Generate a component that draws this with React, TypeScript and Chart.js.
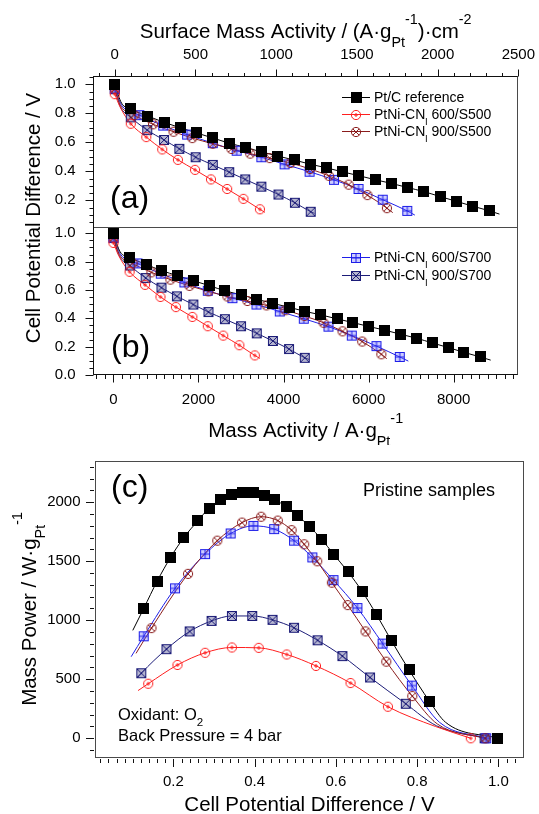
import React, { useEffect, useRef } from "react";
import { Chart, registerables } from "chart.js";
Chart.register(...registerables);

const FONT = "'Liberation Sans', Arimo, Arial, sans-serif";

// ================= DATA =================
// Pt/C reference
const ptcV = [0.998, 0.830, 0.780, 0.737, 0.700, 0.665, 0.630, 0.594, 0.565, 0.534, 0.505, 0.478, 0.449, 0.424, 0.396, 0.370, 0.342, 0.317, 0.288, 0.260, 0.226, 0.193, 0.160, 0.127];
const ptcMass = [0, 379, 766, 1129, 1508, 1879, 2258, 2621, 3008, 3371, 3750, 4129, 4500, 4879, 5258, 5629, 6008, 6371, 6750, 7121, 7500, 7879, 8242, 8629];
const ptcSurf = [0, 99, 205, 307, 406, 505, 607, 709, 808, 908, 1010, 1111, 1211, 1310, 1412, 1511, 1613, 1712, 1814, 1915, 2015, 2116, 2216, 2322];
const ptcPower = [0, 315, 579, 824, 1047, 1242, 1409, 1560, 1685, 1797, 1889, 1964, 2019, 2058, 2081, 2084, 2061, 2019, 1950, 1841, 1702, 1532, 1331, 1100];
const ptcFitV = [0.870, 0.105];
const ptcFitMass = [155, 8871];
const ptcFitSurf = [42, 2383];
const ptcFitPV = [0.100, 0.870];
const ptcFitP = [914, 135];

// PtNi-CNl 600/S500
const redV = [0.932, 0.728, 0.636, 0.551, 0.479, 0.410, 0.344, 0.278, 0.210, 0.138];
const redMass = [0, 379, 742, 1105, 1468, 1855, 2218, 2581, 2960, 3323];
const redSurf = [0, 99, 195, 294, 391, 497, 596, 696, 797, 899];
const redPower = [0, 267, 468, 613, 710, 766, 769, 724, 621, 462];
const redFitV = [0.845, 0.117];
const redFitMass = [118, 3444];
const redFitSurf = [32, 930];
const redFitPV = [0.113, 0.845];
const redFitP = [404, 100];

// PtNi-CNl 900/S500
const brnV = [0.968, 0.788, 0.724, 0.673, 0.629, 0.590, 0.554, 0.522, 0.491, 0.457, 0.416, 0.369, 0.308, 0.236, 0.146];
const brnMass = [0, 448, 893, 1340, 1787, 2235, 2680, 3150, 3600, 4045, 4493, 4940, 5387, 5850, 6300];
const brnSurf = [0, 121, 237, 364, 480, 607, 723, 839, 960, 1089, 1210, 1326, 1449, 1565, 1686];
const brnPower = [0, 357, 649, 905, 1128, 1318, 1499, 1643, 1763, 1844, 1877, 1827, 1674, 1393, 933];
const brnFitV = [0.850, 0.115];
const brnFitMass = [141, 6427];
const brnFitSurf = [38, 1722];
const brnFitPV = [0.108, 0.850];
const brnFitP = [719, 120];

// PtNi-CNl 600/S700
const bluV = [0.970, 0.787, 0.715, 0.653, 0.594, 0.542, 0.497, 0.448, 0.397, 0.341, 0.278, 0.204, 0.127];
const bluMass = [0, 565, 1113, 1669, 2218, 2798, 3363, 3911, 4476, 5056, 5605, 6185, 6734];
const bluSurf = [0, 152, 300, 448, 607, 755, 908, 1052, 1207, 1358, 1510, 1660, 1812];
const bluPower = [0, 446, 802, 1103, 1340, 1532, 1674, 1772, 1799, 1735, 1560, 1270, 864];
const bluFitV = [0.855, 0.098];
const bluFitMass = [158, 6935];
const bluFitSurf = [43, 1859];
const bluFitPV = [0.096, 0.855];
const bluFitP = [691, 135];

// PtNi-CNl 900/S700
const navV = [0.966, 0.772, 0.684, 0.616, 0.555, 0.497, 0.444, 0.394, 0.344, 0.294, 0.240, 0.183, 0.121];
const navMass = [0, 387, 758, 1129, 1492, 1879, 2234, 2621, 3000, 3371, 3750, 4129, 4500];
const navSurf = [0, 99, 201, 305, 400, 501, 607, 709, 808, 908, 1014, 1116, 1214];
const navPower = [0, 292, 515, 696, 830, 936, 1003, 1036, 1036, 994, 905, 755, 551];
const navFitV = [0.848, 0.110];
const navFitMass = [124, 4597];
const navFitSurf = [33, 1237];
const navFitPV = [0.112, 0.848];
const navFitP = [515, 105];

// tick labels
const surfTicks = [0, 500, 1000, 1500, 2000, 2500];
const massTicks = [0, 2000, 4000, 6000, 8000];
const potTicksA = [0.2, 0.4, 0.6, 0.8, 1.0];
const potTicksB = [0.0, 0.2, 0.4, 0.6, 0.8, 1.0];
const potTicksC = [0.2, 0.4, 0.6, 0.8, 1.0];
const powerTicks = [0, 500, 1000, 1500, 2000];

// ================= STYLE / SERIES =================
type Seg = { t: string; m?: "sub" | "sup" };
const lbl = (rest: string): Seg[] => [{ t: "PtNi-CN" }, { t: "l", m: "sub" }, { t: " " + rest }];

const SERIES = [
  { key: "ptc", color: "#000000", label: [{ t: "Pt/C reference" }] as Seg[], V: ptcV, mass: ptcMass, surf: ptcSurf, power: ptcPower, fV: ptcFitV, fMass: ptcFitMass, fSurf: ptcFitSurf, fPV: ptcFitPV, fP: ptcFitP },
  { key: "red", color: "#ff1f1f", label: lbl("600/S500"), V: redV, mass: redMass, surf: redSurf, power: redPower, fV: redFitV, fMass: redFitMass, fSurf: redFitSurf, fPV: redFitPV, fP: redFitP },
  { key: "brn", color: "#8a1c1c", label: lbl("900/S500"), V: brnV, mass: brnMass, surf: brnSurf, power: brnPower, fV: brnFitV, fMass: brnFitMass, fSurf: brnFitSurf, fPV: brnFitPV, fP: brnFitP },
  { key: "blu", color: "#1e1ee8", label: lbl("600/S700"), V: bluV, mass: bluMass, surf: bluSurf, power: bluPower, fV: bluFitV, fMass: bluFitMass, fSurf: bluFitSurf, fPV: bluFitPV, fP: bluFitP },
  { key: "nav", color: "#1c1c78", label: lbl("900/S700"), V: navV, mass: navMass, surf: navSurf, power: navPower, fV: navFitV, fMass: navFitMass, fSurf: navFitSurf, fPV: navFitPV, fP: navFitP },
];

const pts = (xs: number[], ys: number[]) => xs.map((x, i) => ({ x, y: ys[i] }));
const fitPts = (xs: number[], ys: number[], exs: number[], eys: number[]) =>
  [...pts(xs, ys), ...pts(exs, eys)].sort((a, b) => a.x - b.x);

function makeMarker(key: string): HTMLCanvasElement {
  const c = document.createElement("canvas");
  const s = key === "ptc" ? 11 : 12;
  c.width = s;
  c.height = s;
  const g = c.getContext("2d")!;
  g.lineWidth = 1;
  const m = s / 2;
  if (key === "ptc") {
    g.fillStyle = "#000";
    g.fillRect(0, 0, s, s);
  } else if (key === "red" || key === "brn") {
    const col = key === "red" ? "#ff1f1f" : "#8a1c1c";
    g.strokeStyle = col;
    g.beginPath();
    g.arc(m, m, 4.6, 0, Math.PI * 2);
    g.stroke();
    g.beginPath();
    if (key === "red") {
      g.moveTo(m, m - 2); g.lineTo(m, m + 2);
      g.moveTo(m - 2, m); g.lineTo(m + 2, m);
    } else {
      g.moveTo(m - 3.2, m - 3.2); g.lineTo(m + 3.2, m + 3.2);
      g.moveTo(m + 3.2, m - 3.2); g.lineTo(m - 3.2, m + 3.2);
    }
    g.stroke();
  } else {
    const col = key === "blu" ? "#1e1ee8" : "#1c1c78";
    g.fillStyle = key === "blu" ? "rgba(110,110,255,0.35)" : "rgba(90,90,150,0.45)";
    g.fillRect(1.5, 1.5, 9, 9);
    g.strokeStyle = col;
    g.strokeRect(1.5, 1.5, 9, 9);
    g.beginPath();
    if (key === "blu") {
      g.moveTo(6, 1.5); g.lineTo(6, 10.5);
      g.moveTo(1.5, 6); g.lineTo(10.5, 6);
    } else {
      g.moveTo(1.5, 1.5); g.lineTo(10.5, 10.5);
      g.moveTo(10.5, 1.5); g.lineTo(1.5, 10.5);
    }
    g.stroke();
  }
  return c;
}

function drawRich(ctx: CanvasRenderingContext2D, segs: Seg[], x: number, y: number, size: number, align: "left" | "center" = "left", rot = 0) {
  ctx.save();
  ctx.translate(x, y);
  if (rot) ctx.rotate(rot);
  const items: { t: string; fs: number; dx: number; dy: number }[] = [];
  let w = 0;
  for (const sg of segs) {
    const fs = sg.m ? size * 0.7 : size;
    ctx.font = `${fs}px ${FONT}`;
    const tw = ctx.measureText(sg.t).width;
    const dy = sg.m === "sub" ? size * 0.42 : sg.m === "sup" ? -size * 0.66 : 0;
    items.push({ t: sg.t, fs, dx: w, dy });
    w += tw;
  }
  const x0 = align === "center" ? -w / 2 : 0;
  ctx.textAlign = "left";
  ctx.textBaseline = "alphabetic";
  ctx.fillStyle = "#000";
  for (const it of items) {
    ctx.font = `${it.fs}px ${FONT}`;
    ctx.fillText(it.t, x0 + it.dx, it.dy);
  }
  ctx.restore();
}

function drawTicks(ctx: CanvasRenderingContext2D, scale: any, dir: "left" | "up" | "down", pos: number, lo: number, hi: number, step: number, majors: number[], majLen: number, minLen: number, gap = 0) {
  const n0 = Math.ceil(lo / step - 1e-6);
  const n1 = Math.floor(hi / step + 1e-6);
  ctx.beginPath();
  for (let k = n0; k <= n1; k++) {
    const v = k * step;
    const isMaj = majors.some((mv) => Math.abs(mv - v) < step * 1e-3);
    const len = isMaj ? majLen : minLen;
    const p = Math.round(scale.getPixelForValue(v)) + 0.5;
    if (dir === "left") { ctx.moveTo(pos - gap, p); ctx.lineTo(pos - gap - len, p); }
    else if (dir === "up") { ctx.moveTo(p, pos - gap); ctx.lineTo(p, pos - gap - len); }
    else { ctx.moveTo(p, pos + gap); ctx.lineTo(p, pos + gap + len); }
  }
  ctx.stroke();
}

function drawLegend(ctx: CanvasRenderingContext2D, entries: any[], markers: any, x1: number, x2: number, tx: number, y0: number, dy: number) {
  entries.forEach((s, i) => {
    const y = y0 + i * dy;
    ctx.save();
    ctx.strokeStyle = s.color;
    ctx.lineWidth = 1;
    ctx.beginPath();
    ctx.moveTo(x1, Math.round(y) + 0.5);
    ctx.lineTo(x2, Math.round(y) + 0.5);
    ctx.stroke();
    const mk = markers[s.key];
    ctx.drawImage(mk, Math.round((x1 + x2) / 2 - mk.width / 2), Math.round(y - mk.height / 2 + 0.5));
    ctx.restore();
    drawRich(ctx, s.label, tx, y + 5, 14);
  });
}

const tickFont = { size: 15, family: FONT };
const FRAME = "#4a4a4a";
const TICK = "#111";

export default function App() {
  const r1 = useRef<HTMLCanvasElement>(null);
  const r2 = useRef<HTMLCanvasElement>(null);

  useEffect(() => {
    const markers: any = {};
    SERIES.forEach((s) => (markers[s.key] = makeMarker(s.key)));

    const dsAB: any[] = [];
    const linesAB: any[] = [];
    SERIES.forEach((s) => {
      // panel (a) : surface mass activity
      dsAB.push({ data: pts(s.surf, s.V), xAxisID: "xt", yAxisID: "yA", showLine: false, pointStyle: markers[s.key], pointRadius: 6 });
      linesAB.push({ data: fitPts(s.surf, s.V, s.fSurf, s.fV), xAxisID: "xt", yAxisID: "yA", showLine: true, borderColor: s.color, borderWidth: 1, pointRadius: 0, cubicInterpolationMode: "monotone" });
      // panel (b) : mass activity
      dsAB.push({ data: pts(s.mass, s.V), xAxisID: "xb", yAxisID: "yB", showLine: false, pointStyle: markers[s.key], pointRadius: 6 });
      linesAB.push({ data: fitPts(s.mass, s.V, s.fMass, s.fV), xAxisID: "xb", yAxisID: "yB", showLine: true, borderColor: s.color, borderWidth: 1, pointRadius: 0, cubicInterpolationMode: "monotone" });
    });

    const axisCommon = (tl: number, pad: number) => ({
      type: "linear",
      grid: { display: false, drawTicks: true, tickLength: tl },
      border: { display: false },
      ticks: { padding: pad, font: tickFont, color: "#000", maxRotation: 0, autoSkip: false },
    });

    const decorAB = {
      id: "decorAB",
      afterDraw(chart: any) {
        const { ctx, chartArea: ca } = chart;
        const { xt, xb, yA, yB } = chart.scales;
        ctx.save();
        ctx.lineWidth = 1;
        const L = Math.round(ca.left) + 0.5, R = Math.round(ca.right) - 0.5;
        const T = Math.round(ca.top) + 0.5, B = Math.round(ca.bottom) - 0.5;
        const M = Math.round(yA.bottom) + 0.5;
        ctx.strokeStyle = FRAME;
        ctx.strokeRect(L, T, R - L, B - T);
        ctx.beginPath(); ctx.moveTo(L, M); ctx.lineTo(R, M); ctx.stroke();
        ctx.strokeStyle = TICK;
        ctx.beginPath(); ctx.moveTo(L, T); ctx.lineTo(L, B); ctx.moveTo(L, T); ctx.lineTo(R, T); ctx.moveTo(L, B); ctx.lineTo(R, B); ctx.stroke();
        drawTicks(ctx, xt, "up", T, -100, 2500, 100, surfTicks, 7, 3.5);
        drawTicks(ctx, xb, "down", B, -400, 9400, 200, massTicks, 8, 4.5);
        drawTicks(ctx, yA, "left", L, 0.05, 1.05, 0.05, potTicksA, 8, 4);
        drawTicks(ctx, yB, "left", L, 0.0, 1.0, 0.05, potTicksB, 8, 4);
        ctx.restore();
        const cx = (ca.left + ca.right) / 2;
        drawRich(ctx, [{ t: "Surface Mass Activity / (A·g" }, { t: "Pt", m: "sub" }, { t: "-1", m: "sup" }, { t: ")·cm" }, { t: "-2", m: "sup" }], cx, 38, 20.5, "center");
        drawRich(ctx, [{ t: "Mass Activity / A·g" }, { t: "Pt", m: "sub" }, { t: "-1", m: "sup" }], cx, 437, 20.5, "center");
        drawRich(ctx, [{ t: "Cell Potential Difference / V" }], 39.5, 218, 20.5, "center", -Math.PI / 2);
        drawRich(ctx, [{ t: "(a)" }], 110, 208, 32);
        drawRich(ctx, [{ t: "(b)" }], 111, 357, 32);
        drawLegend(ctx, [SERIES[0], SERIES[1], SERIES[2]], markers, 342, 370, 374, 97, 17);
        drawLegend(ctx, [SERIES[3], SERIES[4]], markers, 342, 370, 374, 257, 18);
      },
    };

    const c1 = new Chart(r1.current!, {
      type: "scatter",
      data: { datasets: [...dsAB, ...linesAB] },
      options: {
        animation: false,
        responsive: false,
        devicePixelRatio: 1,
        layout: { padding: { left: 0, right: 20, top: 0, bottom: 0 } },
        plugins: { legend: { display: false }, tooltip: { enabled: false } },
        scales: {
          xb: { ...axisCommon(8, 8), position: "bottom", min: -481, max: 9521,
            afterBuildTicks: (s: any) => { s.ticks = massTicks.map((v) => ({ value: v })); },
            ticks: { ...axisCommon(8, 8).ticks, callback: (v: any) => String(v) },
            afterFit: (s: any) => { s.height = 70; } },
          xt: { ...axisCommon(8, 4), position: "top", min: -135, max: 2500,
            afterBuildTicks: (s: any) => { s.ticks = surfTicks.map((v) => ({ value: v })); },
            ticks: { ...axisCommon(8, 4).ticks, callback: (v: any) => String(v) },
            afterFit: (s: any) => { s.height = 76; } },
          yB: { ...axisCommon(9, 8.3), position: "left", stack: "ab", stackWeight: 148, min: 0, max: 1.044,
            afterBuildTicks: (s: any) => { s.ticks = potTicksB.map((v) => ({ value: v })); },
            ticks: { ...axisCommon(9, 8.3).ticks, callback: (v: any) => Number(v).toFixed(1) },
            afterFit: (s: any) => { s.width = 93; } },
          yA: { ...axisCommon(9, 8.3), position: "left", stack: "ab", stackWeight: 151, min: 0.016, max: 1.057,
            afterBuildTicks: (s: any) => { s.ticks = potTicksA.map((v) => ({ value: v })); },
            ticks: { ...axisCommon(9, 8.3).ticks, callback: (v: any) => Number(v).toFixed(1) },
            afterFit: (s: any) => { s.width = 93; } },
        },
      } as any,
      plugins: [decorAB],
    } as any);

    // ---------- panel (c) ----------
    const dsC: any[] = [];
    const linesC: any[] = [];
    SERIES.forEach((s) => {
      dsC.push({ data: pts(s.V, s.power), showLine: false, pointStyle: markers[s.key], pointRadius: 6 });
      linesC.push({ data: fitPts(s.V, s.power, s.fPV, s.fP), showLine: true, borderColor: s.color, borderWidth: 1, pointRadius: 0, cubicInterpolationMode: "monotone" });
    });

    const decorC = {
      id: "decorC",
      afterDraw(chart: any) {
        const { ctx, chartArea: ca } = chart;
        const { x, y } = chart.scales;
        ctx.save();
        ctx.lineWidth = 1;
        const L = Math.round(ca.left) + 0.5, R = Math.round(ca.right) - 0.5;
        const T = Math.round(ca.top) + 0.5, B = Math.round(ca.bottom) - 0.5;
        ctx.strokeStyle = FRAME;
        ctx.strokeRect(L, T, R - L, B - T);
        ctx.strokeStyle = TICK;
        drawTicks(ctx, x, "down", B, 0.02, 1.04, 0.02, potTicksC, 8, 4, 1.5);
        drawTicks(ctx, y, "left", L, -100, 2300, 100, powerTicks, 8, 4, 1.5);
        ctx.restore();
        const cx = (ca.left + ca.right) / 2;
        drawRich(ctx, [{ t: "Cell Potential Difference / V" }], cx, 366, 20.5, "center");
        drawRich(ctx, [{ t: "Mass Power / W·g" }, { t: "Pt", m: "sub" }, { t: "-1", m: "sup" }], 36, (ca.top + ca.bottom) / 2, 20.5, "center", -Math.PI / 2);
        drawRich(ctx, [{ t: "(c)" }], 111, 52, 32);
        drawRich(ctx, [{ t: "Pristine samples" }], 363, 51, 18);
        drawRich(ctx, [{ t: "Oxidant: O" }, { t: "2", m: "sub" }], 118, 274.5, 16.5);
        drawRich(ctx, [{ t: "Back Pressure = 4 bar" }], 118, 295.5, 16.5);
      },
    };

    const c2 = new Chart(r2.current!, {
      type: "scatter",
      data: { datasets: [...dsC, ...linesC] },
      options: {
        animation: false,
        responsive: false,
        devicePixelRatio: 1,
        layout: { padding: { left: 0, right: 15, top: 11, bottom: 0 } },
        plugins: { legend: { display: false }, tooltip: { enabled: false } },
        scales: {
          x: { ...axisCommon(8, 7), position: "bottom", min: 0.007, max: 1.063,
            afterBuildTicks: (s: any) => { s.ticks = potTicksC.map((v) => ({ value: v })); },
            ticks: { ...axisCommon(8, 7).ticks, callback: (v: any) => Number(v).toFixed(1) },
            afterFit: (s: any) => { s.height = 56.5; } },
          y: { ...axisCommon(8, 6.5), position: "left", min: -163, max: 2353,
            afterBuildTicks: (s: any) => { s.ticks = powerTicks.map((v) => ({ value: v })); },
            ticks: { ...axisCommon(8, 6.5).ticks, callback: (v: any) => String(v) },
            afterFit: (s: any) => { s.width = 95; } },
        },
      } as any,
      plugins: [decorC],
    } as any);

    return () => {
      c1.destroy();
      c2.destroy();
    };
  }, []);

  return (
    <div style={{ position: "absolute", left: 0, top: 0, width: 539, height: 814, background: "#fff" }}>
      <canvas ref={r1} width={539} height={445} style={{ position: "absolute", left: 0, top: 0, width: 539, height: 445 }} />
      <canvas ref={r2} width={539} height={369} style={{ position: "absolute", left: 0, top: 445, width: 539, height: 369 }} />
    </div>
  );
}
